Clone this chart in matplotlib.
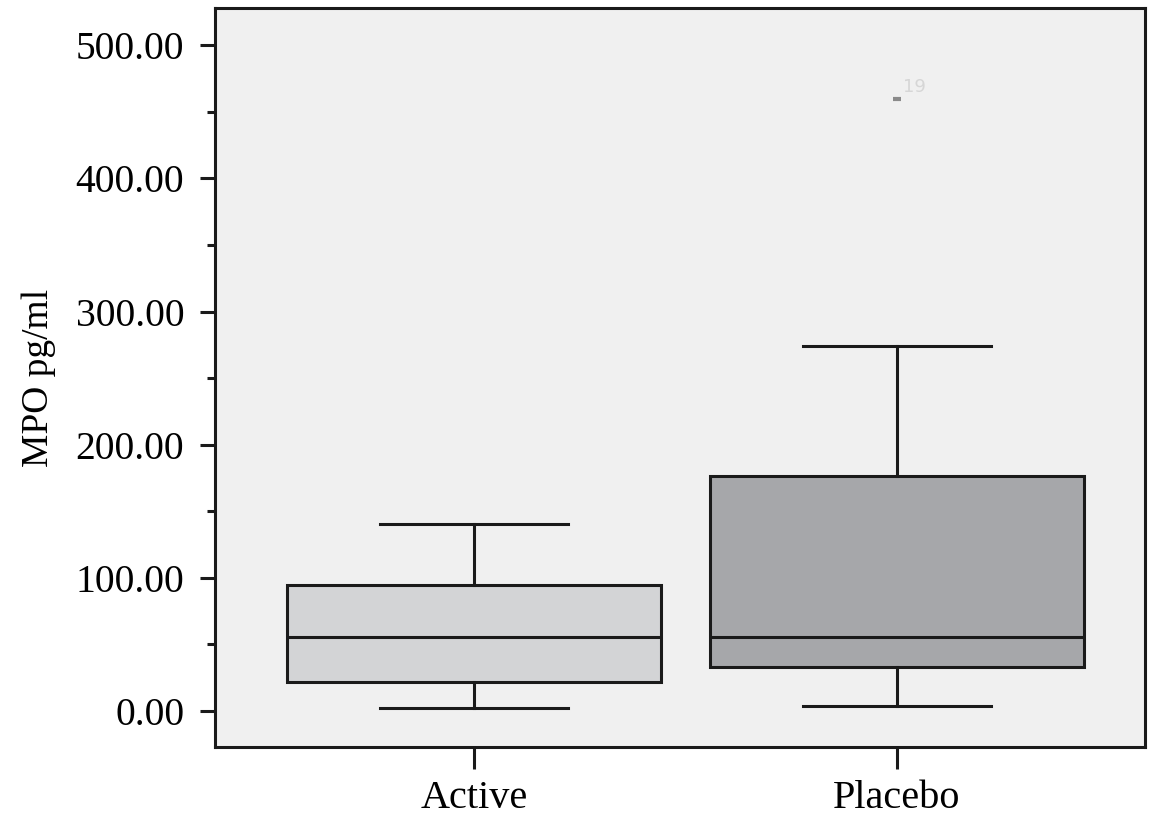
import matplotlib.pyplot as plt
from matplotlib.ticker import MultipleLocator, FormatStrFormatter

# group summaries
groups = ["Active", "Placebo"]
q1 = [21.8, 33.0]
medians = [55.6, 55.6]
q3 = [94.6, 176.4]
whislo = [2.3, 3.8]
whishi = [140.4, 274.0]
fliers = [[], [459.5]]
flier_ids = [[], ["19"]]
box_colors = ["#d3d4d6", "#a6a7aa"]

plt.rcParams['font.family'] = ['Liberation Serif', 'DejaVu Serif']

fig = plt.figure(figsize=(11.49, 8.19), dpi=100)
ax = fig.add_axes([0.187, 0.088, 0.8095, 0.902])
ax.set_facecolor("#f0f0f0")

stats = []
for i, g in enumerate(groups):
    stats.append(dict(label=g, q1=q1[i], med=medians[i], q3=q3[i],
                      whislo=whislo[i], whishi=whishi[i], fliers=fliers[i]))

positions = [1, 2]
bp = ax.bxp(stats, positions=positions, widths=0.884, patch_artist=True,
            capwidths=0.445,
            boxprops=dict(linewidth=2.2, edgecolor="#1a1a1a"),
            medianprops=dict(linewidth=2.2, color="#1a1a1a"),
            whiskerprops=dict(linewidth=2.2, color="#1a1a1a"),
            capprops=dict(linewidth=2.2, color="#1a1a1a"),
            flierprops=dict(marker='_', markersize=6, markeredgewidth=3,
                            markeredgecolor="#8a8a8a"))
for patch, c in zip(bp['boxes'], box_colors):
    patch.set_facecolor(c)

for i, (vals, ids) in enumerate(zip(fliers, flier_ids)):
    for v, t in zip(vals, ids):
        ax.annotate(t, (positions[i], v), xytext=(4, 5), textcoords='offset points',
                    fontsize=13, color="#d6d6d6", family='DejaVu Sans')

ax.set_xlim(0.388, 2.586)
ax.set_ylim(-27, 527.8)
ax.yaxis.set_major_locator(MultipleLocator(100))
ax.yaxis.set_minor_locator(MultipleLocator(50))
ax.yaxis.set_major_formatter(FormatStrFormatter('%.2f'))
ax.set_ylabel("MPO pg/ml", fontsize=27, labelpad=14)

for s in ax.spines.values():
    s.set_linewidth(2.2)
    s.set_color("#1a1a1a")
ax.tick_params(axis='y', which='major', labelsize=28.5, width=2.2, length=11,
               color="#1a1a1a", pad=11)
ax.tick_params(axis='x', which='major', labelsize=29, width=2.2, length=16,
               color="#1a1a1a", pad=8)
ax.tick_params(axis='y', which='minor', width=2.2, length=6, color="#1a1a1a")

fig.savefig("out.png", dpi=100)
